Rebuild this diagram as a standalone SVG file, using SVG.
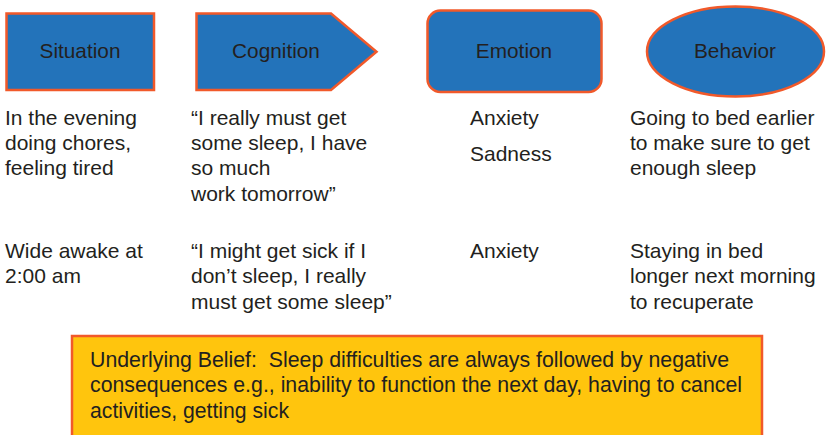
<svg xmlns="http://www.w3.org/2000/svg" width="826" height="435" viewBox="0 0 826 435">
<style>
.shape{fill:#2373BA;stroke:#F1592A;stroke-width:2.5}
.hd{font-family:"Liberation Sans",Arial,sans-serif;font-size:20.8px;fill:#231F20;text-anchor:middle}
.t{font-family:"Liberation Sans",Arial,sans-serif;font-size:21px;fill:#231F20}
.belief{fill:#FFC50D;stroke:#F1592A;stroke-width:2.5}
.bt{font-family:"Liberation Sans",Arial,sans-serif;font-size:21.5px;fill:#231F20;white-space:pre}
</style>
<rect width="826" height="435" fill="#FFFFFF"/>
<g id="situation">
<rect class="shape" x="6.5" y="13.5" width="147.5" height="76.5"/>
<text class="hd" x="80" y="58">Situation</text>
</g>
<g id="cognition">
<polygon class="shape" points="196.5,13.5 331,13.5 376.5,51.8 331,90 196.5,90"/>
<text class="hd" x="276" y="58">Cognition</text>
</g>
<g id="emotion">
<rect class="shape" x="427.5" y="10.5" width="174" height="81.5" rx="13" ry="13"/>
<text class="hd" x="514" y="58">Emotion</text>
</g>
<g id="behavior">
<ellipse class="shape" cx="735.5" cy="51.5" rx="88.5" ry="45"/>
<text class="hd" x="735" y="58">Behavior</text>
</g>
<g id="connectors"></g>
<g id="row1">
<text class="t" x="5" y="125">In the evening</text>
<text class="t" x="5" y="150">doing chores,</text>
<text class="t" x="5" y="175">feeling tired</text>
<text class="t" x="191" y="125">“I really must get</text>
<text class="t" x="191" y="150">some sleep, I have</text>
<text class="t" x="191" y="175">so much</text>
<text class="t" x="191" y="201">work tomorrow”</text>
<text class="t" x="470" y="125">Anxiety</text>
<text class="t" x="470" y="161">Sadness</text>
<text class="t" x="630" y="125">Going to bed earlier</text>
<text class="t" x="630" y="150">to make sure to get</text>
<text class="t" x="630" y="175">enough sleep</text>
</g>
<g id="row2">
<text class="t" x="5" y="258">Wide awake at</text>
<text class="t" x="5" y="283">2:00 am</text>
<text class="t" x="191" y="258">“I might get sick if I</text>
<text class="t" x="191" y="283">don’t sleep, I really</text>
<text class="t" x="191" y="309">must get some sleep”</text>
<text class="t" x="470" y="258">Anxiety</text>
<text class="t" x="630" y="258">Staying in bed</text>
<text class="t" x="630" y="283">longer next morning</text>
<text class="t" x="630" y="309">to recuperate</text>
</g>
<g id="belief">
<rect class="belief" x="72" y="336" width="690" height="105"/>
<text class="bt" x="90" y="367" textLength="639" lengthAdjust="spacingAndGlyphs" xml:space="preserve">Underlying Belief:  Sleep difficulties are always followed by negative</text>
<text class="bt" x="90" y="392" textLength="652" lengthAdjust="spacingAndGlyphs">consequences e.g., inability to function the next day, having to cancel</text>
<text class="bt" x="90" y="418" textLength="199" lengthAdjust="spacingAndGlyphs">activities, getting sick</text>
</g>
</svg>
